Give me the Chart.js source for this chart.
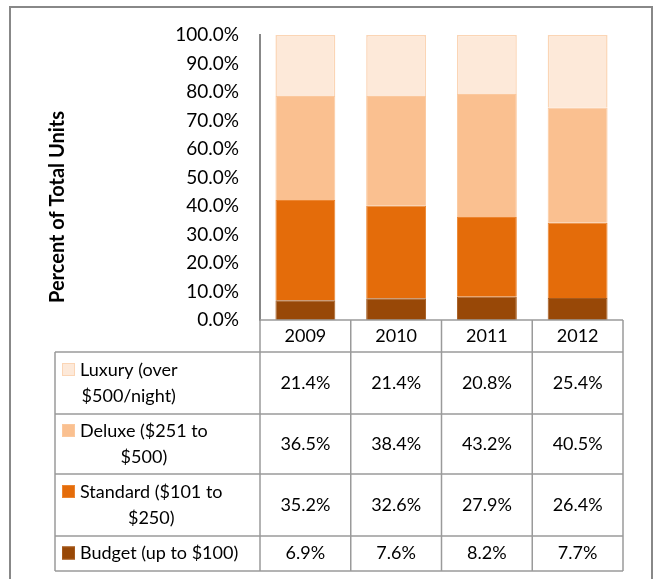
<!DOCTYPE html>
<html>
<head>
<meta charset="utf-8">
<script src="https://cdn.jsdelivr.net/npm/chart.js@4/dist/chart.umd.min.js"></script>
<style>
  html, body { margin: 0; padding: 0; background: #fff; }
  canvas { display: block; }
</style>
</head>
<body>
<canvas id="chart" width="654" height="579"></canvas>
<script>
// data
const years = ["2009", "2010", "2011", "2012"];
const luxury = [21.4, 21.4, 20.8, 25.4];
const deluxe = [36.5, 38.4, 43.2, 40.5];
const standard = [35.2, 32.6, 27.9, 26.4];
const budget = [6.9, 7.6, 8.2, 7.7];
const yTicks = [0, 10, 20, 30, 40, 50, 60, 70, 80, 90, 100];

const luxuryLabel = ["Luxury (over", "$500/night)"];
const deluxeLabel = ["Deluxe ($251 to", "$500)"];
const standardLabel = ["Standard ($101 to", "$250)"];
const budgetLabel = ["Budget (up to $100)"];

const FONT = "Lato";
const GRID = "#9a9a9a";

// row heights of the data table: header, then one per series
const rowHeights = [32, 62, 60, 62, 35];
const tableLeft = 55;

// outer frame + y title
const framePlugin = {
    id: "frame",
    beforeDraw(chart) {
        const ctx = chart.ctx;
        ctx.save();
        ctx.fillStyle = "#fff";
        ctx.fillRect(0, 0, chart.width, chart.height);
        ctx.strokeStyle = "#888";
        ctx.lineWidth = 2;
        ctx.strokeRect(10, 7, 642, 640);
        ctx.restore();
    },
    afterDraw(chart) {
        const ctx = chart.ctx;
        ctx.save();
        ctx.translate(58, 207);
        ctx.rotate(-Math.PI / 2);
        ctx.font = "bold 20px " + FONT;
        ctx.fillStyle = "#000";
        ctx.textAlign = "center";
        ctx.textBaseline = "middle";
        ctx.fillText("Percent of Total Units", 0, 0);
        ctx.restore();
    }
};

// data table under the plot, columns taken from the x scale
const tablePlugin = {
    id: "dataTable",
    afterDraw(chart) {
        const ctx = chart.ctx;
        const xs = chart.scales.x;
        const area = chart.chartArea;
        const n = years.length;
        const colW = (area.right - area.left) / n;
        const top = area.bottom;
        const right = area.right;

        const rowTops = [top];
        rowHeights.forEach(h => rowTops.push(rowTops[rowTops.length - 1] + h));
        const bottom = rowTops[rowTops.length - 1];

        ctx.save();
        ctx.strokeStyle = GRID;
        ctx.lineWidth = 1.5;
        ctx.beginPath();
        // horizontal lines
        ctx.moveTo(area.left, top); ctx.lineTo(right, top);
        for (let r = 1; r < rowTops.length; r++) {
            ctx.moveTo(tableLeft, rowTops[r]); ctx.lineTo(right, rowTops[r]);
        }
        // vertical lines
        for (let i = 0; i <= n; i++) {
            const x = area.left + i * colW;
            ctx.moveTo(x, top); ctx.lineTo(x, bottom);
        }
        ctx.moveTo(tableLeft, rowTops[1]); ctx.lineTo(tableLeft, bottom);
        ctx.stroke();

        ctx.font = "18px " + FONT;
        ctx.fillStyle = "#000";
        ctx.textAlign = "center";
        ctx.textBaseline = "middle";

        // header with years
        years.forEach((y, i) => {
            ctx.fillText(y, xs.getPixelForValue(i), top + rowHeights[0] / 2);
        });

        // series rows, top of stack first
        const order = chart.data.datasets.slice().reverse();
        order.forEach((ds, r) => {
            const yTop = rowTops[r + 1];
            const cy = yTop + rowHeights[r + 1] / 2;
            const lines = ds.tableLabel;
            const lh = 26;
            const firstY = cy - (lines.length - 1) * lh / 2;

            // legend key
            ctx.fillStyle = ds.backgroundColor;
            ctx.fillRect(62, firstY - 7, 13, 13);
            ctx.strokeStyle = ds.borderColor;
            ctx.lineWidth = 1;
            ctx.strokeRect(62.5, firstY - 6.5, 12, 12);

            // label lines, centred within their block
            ctx.fillStyle = "#000";
            const widths = lines.map(l => ctx.measureText(l).width);
            const blockW = Math.max(...widths);
            const blockC = 80 + blockW / 2;
            lines.forEach((l, k) => {
                ctx.fillText(l, blockC, firstY + k * lh);
            });

            // values
            ds.data.forEach((v, i) => {
                ctx.fillText(v.toFixed(1) + "%", xs.getPixelForValue(i), cy);
            });
        });
        ctx.restore();
    }
};

function draw() {
    const canvas = document.getElementById("chart");
    new Chart(canvas, {
        type: "bar",
        data: {
            labels: years,
            datasets: [
                {
                    label: "Budget (up to $100)",
                    tableLabel: budgetLabel,
                    data: budget,
                    backgroundColor: "#984807",
                    borderColor: "#a65a1c",
                    borderWidth: 1
                },
                {
                    label: "Standard ($101 to $250)",
                    tableLabel: standardLabel,
                    data: standard,
                    backgroundColor: "#e46c0a",
                    borderColor: "#ec8530",
                    borderWidth: 1
                },
                {
                    label: "Deluxe ($251 to $500)",
                    tableLabel: deluxeLabel,
                    data: deluxe,
                    backgroundColor: "#fac090",
                    borderColor: "#fbc89d",
                    borderWidth: 1
                },
                {
                    label: "Luxury (over $500/night)",
                    tableLabel: luxuryLabel,
                    data: luxury,
                    backgroundColor: "#fde9d9",
                    borderColor: "#fbd5b5",
                    borderWidth: 1.5
                }
            ]
        },
        options: {
            responsive: false,
            animation: false,
            devicePixelRatio: 1,
            layout: {
                padding: { left: 0, right: 31, top: 35, bottom: 259 }
            },
            plugins: {
                legend: { display: false },
                tooltip: { enabled: false }
            },
            datasets: {
                bar: { categoryPercentage: 1, barPercentage: 0.66 }
            },
            scales: {
                x: {
                    stacked: true,
                    display: false
                },
                y: {
                    stacked: true,
                    min: 0,
                    max: 100,
                    afterFit(scale) { scale.width = 260; },
                    afterBuildTicks(scale) {
                        scale.ticks = yTicks.map(v => ({ value: v }));
                    },
                    grid: { display: false, drawTicks: false },
                    border: { display: true, color: "#888", width: 2 },
                    ticks: {
                        padding: 21,
                        color: "#000",
                        font: { family: FONT, size: 19 },
                        callback: v => v.toFixed(1) + "%"
                    }
                }
            }
        },
        plugins: [framePlugin, tablePlugin]
    });
}

if (document.fonts && document.fonts.load) {
    Promise.all([
        document.fonts.load("18px " + FONT),
        document.fonts.load("bold 20px " + FONT)
    ]).then(draw, draw);
} else {
    draw();
}
</script>
</body>
</html>
